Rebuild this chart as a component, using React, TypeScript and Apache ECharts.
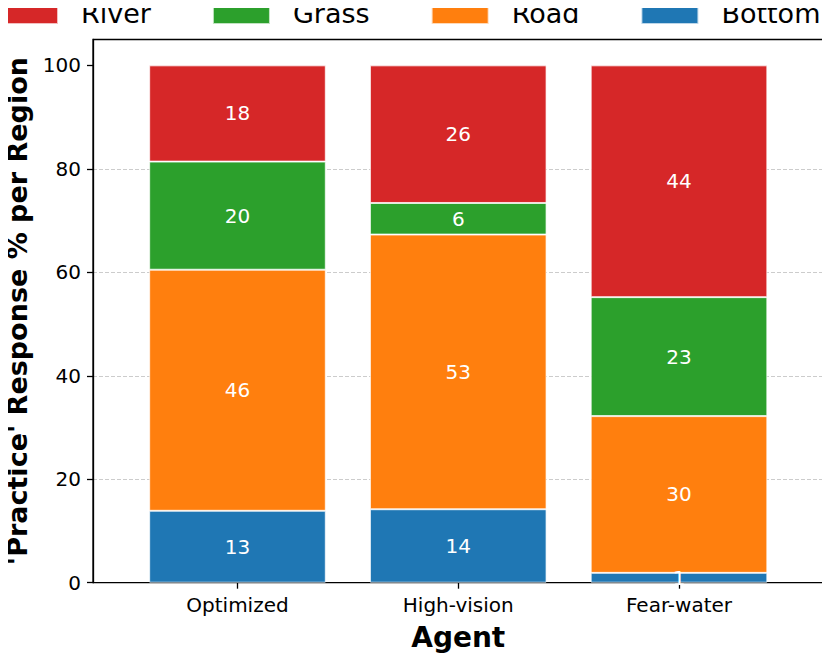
import React, { useEffect, useRef } from "react";
import * as echarts from "echarts";

const agents = ["Optimized", "High-vision", "Fear-water"];
const regions = ["River", "Grass", "Road", "Bottom"];
const bottomValues = [13.9, 14.2, 1.9];
const roadValues = [46.6, 53.1, 30.3];
const grassValues = [20.9, 6.1, 23.0];
const riverValues = [18.6, 26.6, 44.8];
const yTicks = [0, 20, 40, 60, 80, 100];
const colors = { River: "#d62728", Grass: "#2ca02c", Road: "#ff7f0e", Bottom: "#1f77b4" };

const FONT = "DejaVu Sans";

export default function App() {
  const ref = useRef<HTMLDivElement>(null);
  useEffect(() => {
    if (!ref.current) return;
    const chart = echarts.init(ref.current, undefined, { renderer: "svg" });
    const mk = (name: string, vals: number[]) => ({
      name,
      type: "bar",
      stack: "total",
      xAxisIndex: 1,
      yAxisIndex: 1,
      barWidth: "80%",
      data: vals,
      itemStyle: {
        color: (colors as any)[name],
        borderColor: "rgba(255,255,255,0.7)",
        borderWidth: 1,
      },
      label: {
        show: true,
        position: "inside",
        color: "#ffffff",
        fontFamily: FONT,
        fontSize: 20,
        formatter: (p: any) => String(Math.floor(p.value)),
      },
      z: 3,
    });
    chart.setOption({
      animation: false,
      backgroundColor: "#ffffff",
      textStyle: { fontFamily: FONT },
      legend: {
        data: regions.map((r) => ({ name: r, icon: "rect" })),
        left: 0,
        top: 0,
        width: 1000,
        padding: 0,
        itemWidth: 57,
        itemHeight: 21,
        itemGap: 61,
        selectedMode: false,
        formatter: (name: string) => `{t|${name}}`,
        textStyle: {
          fontFamily: FONT,
          fontSize: 27,
          color: "#000000",
          padding: [0, 0, 0, 18],
          rich: {
            t: {
              fontFamily: FONT,
              fontSize: 27,
              lineHeight: 18,
              color: "#000000",
            },
          },
        },
      },
      grid: [
        {
          left: 93,
          right: 7.3,
          top: 39.5,
          bottom: 72.3,
          show: true,
          borderColor: "#000000",
          borderWidth: 1.3,
          backgroundColor: "transparent",
          outerBoundsMode: "none",
          containLabel: false,
        },
        {
          left: 127.1,
          right: 40.6,
          top: 39.5,
          bottom: 72.3,
          outerBoundsMode: "none",
          containLabel: false,
        },
      ],
      xAxis: [
        {
          gridIndex: 0,
          type: "value",
          min: 0,
          max: 1,
          show: false,
        },
        {
          gridIndex: 1,
          type: "category",
          data: agents,
          name: "Agent",
          nameLocation: "middle",
          nameGap: 41,
          nameTextStyle: { fontFamily: FONT, fontSize: 28, fontWeight: "bold", color: "#000" },
          axisLine: { show: false },
          axisTick: { show: true, alignWithLabel: true, length: 6, lineStyle: { color: "#000", width: 1.3 } },
          axisLabel: {
            margin: 12,
            fontFamily: FONT,
            fontSize: 20,
            color: "#000",
          },
          splitLine: { show: false },
        },
      ],
      yAxis: [
        {
          gridIndex: 0,
          type: "value",
          min: 0,
          max: 105,
          interval: 20,
          name: "'Practice' Response % per Region",
          nameLocation: "middle",
          nameGap: 62,
          nameTextStyle: { fontFamily: FONT, fontSize: 27, fontWeight: "bold", color: "#000" },
          axisLine: { show: true, onZero: false, lineStyle: { color: "#000", width: 1.3 } },
          axisTick: { show: true, length: 6, customValues: yTicks, lineStyle: { color: "#000", width: 1.3 } },
          axisLabel: {
            customValues: yTicks,
            margin: 12,
            fontFamily: FONT,
            fontSize: 20,
            color: "#000",
            formatter: (v: number) => (v > 100 ? "" : String(v)),
          },
          splitLine: {
            show: true,
            showMinLine: false,
            showMaxLine: false,
            lineStyle: { color: "#cccccc", type: [4, 2], width: 1 },
          },
        },
        {
          gridIndex: 1,
          type: "value",
          min: 0,
          max: 105,
          show: false,
        },
      ],
      series: [
        mk("Bottom", bottomValues),
        mk("Road", roadValues),
        mk("Grass", grassValues),
        mk("River", riverValues),
      ],
    });
    return () => chart.dispose();
  }, []);
  return <div ref={ref} style={{ width: 830, height: 655, marginLeft: -8, marginTop: -8 }} />;
}
